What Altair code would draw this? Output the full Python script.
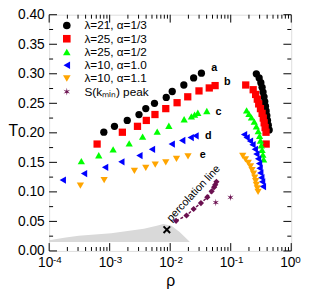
import altair as alt
import pandas as pd
import numpy as np

# ---------------- data ----------------
names = ["λ=21, α=1/3", "λ=25, α=1/3", "λ=25, α=1/2", "λ=10, α=1.0", "λ=10, α=1.1", "S(kₘᵢₙ) peak"]
colors = ["#000000", "#ff0000", "#00ff00", "#0000ff", "#ffa500", "#6b1050"]

a_rho = [8.0e-4, 1.2e-3, 1.95e-3, 3.05e-3, 3.95e-3, 5.5e-3, 8.6e-3, 1.08e-2, 1.68e-2, 2.44e-2, 3.28e-2,
         0.265, 0.295, 0.315, 0.330, 0.342, 0.355, 0.365, 0.375, 0.385, 0.395, 0.405, 0.418, 0.432]
a_T = [0.201, 0.211, 0.221, 0.231, 0.241, 0.250, 0.260, 0.270, 0.281, 0.293, 0.301,
       0.300, 0.293, 0.285, 0.277, 0.269, 0.261, 0.253, 0.245, 0.237, 0.229, 0.221, 0.213, 0.205]

b_rho = [6.2e-4, 1.62e-3, 2.88e-3, 4.03e-3, 5.6e-3, 8.45e-3, 1.30e-2, 1.95e-2, 2.99e-2, 4.42e-2, 5.52e-2,
         0.177, 0.235, 0.258, 0.275, 0.290, 0.310, 0.330, 0.345, 0.357, 0.370, 0.383, 0.385]
b_T = [0.181, 0.201, 0.211, 0.221, 0.231, 0.241, 0.251, 0.261, 0.271, 0.276, 0.280,
       0.281, 0.273, 0.265, 0.257, 0.249, 0.241, 0.233, 0.225, 0.217, 0.209, 0.201, 0.181]

c_rho = [3.4e-4, 6.6e-4, 1.14e-3, 2.1e-3, 3.5e-3, 6.1e-3, 9.5e-3, 1.70e-2, 2.24e-2, 2.53e-2, 2.86e-2, 4.03e-2,
         0.183, 0.200, 0.220, 0.245, 0.265, 0.285, 0.300, 0.310, 0.320, 0.330, 0.340, 0.350]
c_T = [0.152, 0.162, 0.172, 0.182, 0.1935, 0.202, 0.212, 0.223, 0.228, 0.231, 0.234, 0.237,
       0.238, 0.232, 0.226, 0.219, 0.211, 0.203, 0.195, 0.187, 0.179, 0.171, 0.163, 0.155]

d_rho = [1.68e-4, 3.77e-4, 8.4e-4, 1.56e-3, 3.1e-3, 5.0e-3, 1.06e-2, 1.58e-2, 2.18e-2, 2.62e-2,
         0.166, 0.183, 0.208, 0.229, 0.250, 0.265, 0.283, 0.294, 0.300, 0.308, 0.320, 0.330, 0.340]
d_T = [0.120, 0.131, 0.1415, 0.151, 0.1615, 0.172, 0.181, 0.187, 0.192, 0.195,
       0.197, 0.192, 0.186, 0.180, 0.172, 0.164, 0.156, 0.148, 0.140, 0.132, 0.124, 0.117, 0.109]

e_rho = [3.28e-4, 8.1e-4, 2.56e-3, 3.95e-3, 5.66e-3, 8.45e-3, 1.27e-2, 1.97e-2,
         0.158, 0.175, 0.195, 0.212, 0.225, 0.238, 0.250, 0.258, 0.265, 0.275, 0.283]
e_T = [0.1106, 0.120, 0.1355, 0.1407, 0.146, 0.150, 0.156, 0.160,
       0.161, 0.155, 0.149, 0.143, 0.137, 0.131, 0.124, 0.118, 0.112, 0.106, 0.100]

peak_rho = [5.66e-2, 0.099]
peak_T = [0.082, 0.0906]

perc_rho = [1.25e-2, 1.86e-2, 2.44e-2, 3.22e-2, 4.1e-2, 4.84e-2, 5.32e-2, 5.55e-2, 5.8e-2]
perc_T = [0.051, 0.060, 0.071, 0.081, 0.091, 0.101, 0.108, 0.112, 0.117]

x_rho = [0.0088]
x_T = [0.036]

grey_rho = [1e-4, 1.88e-4, 3.08e-4, 5.7e-4, 1.06e-3, 1.97e-3, 3.67e-3, 6.0e-3, 7.7e-3, 1.05e-2, 1.43e-2, 2.08e-2]
grey_top = [0.018, 0.0228, 0.0255, 0.028, 0.030, 0.0337, 0.0374, 0.0427, 0.0455, 0.0427, 0.032, 0.016]
grey_bottom = 0.015

curve_letters = ["a", "b", "c", "d", "e"]
letter_rho = [0.0532, 0.0877, 0.0627, 0.0425, 0.0345]
letter_T = [0.309, 0.286, 0.235, 0.195, 0.163]

perc_label = ["percolation line"]
perc_label_rho = [0.0245]
perc_label_T = [0.097]

x_major = [1e-4, 1e-3, 1e-2, 1e-1, 1.0]
x_exp = ["-4", "-3", "-2", "-1", "0"]
x_minor = [k * 10.0 ** e for e in range(-4, 0) for k in range(2, 10)]
y_major = [0.0, 0.05, 0.10, 0.15, 0.20, 0.25, 0.30, 0.35, 0.40]
y_minor = [0.025, 0.075, 0.125, 0.175, 0.225, 0.275, 0.325, 0.375]

# ---------------- build tables ----------------
W, H = 247, 241
FONT = "Liberation Sans"
purple = colors[5]
X_LO, X_HI = 1e-4, 1.0
Y_LO, Y_HI = 0.0, 0.4

rows = []
for nm, rr, tt in zip(names, [a_rho, b_rho, c_rho, d_rho, e_rho, peak_rho], [a_T, b_T, c_T, d_T, e_T, peak_T]):
    for r, t in zip(rr, tt):
        rows.append({"rho": r, "T": t, "series": nm})
pts = pd.DataFrame(rows)

ang = np.arange(12) * np.pi / 6 - np.pi / 2
rad = np.where(np.arange(12) % 2 == 0, 1.0, 0.3)
star_path = "M" + "L".join(f"{rr*np.cos(a):.3f},{rr*np.sin(a):.3f}" for rr, a in zip(rad, ang)) + "Z"
shapes = ["circle", "square", "triangle-up", "triangle-left", "triangle-down", star_path]

xs = alt.Scale(type="log", domain=[X_LO, X_HI])
ys = alt.Scale(domain=[Y_LO, Y_HI])
XN = alt.X("rho:Q", scale=xs, axis=None)
YN = alt.Y("T:Q", scale=ys, axis=None)

grey = pd.DataFrame({"rho": grey_rho, "T": grey_top, "T0": [grey_bottom] * len(grey_rho)})
perc = pd.DataFrame({"rho": perc_rho, "T": perc_T})
xdf = pd.DataFrame({"rho": x_rho, "T": x_T})
letters = pd.DataFrame({"rho": letter_rho, "T": letter_T, "lab": curve_letters})
plab = pd.DataFrame({"rho": perc_label_rho, "T": perc_label_T, "lab": perc_label})
expdf = pd.DataFrame({"rho": x_major, "lab": x_exp})

# main axis (labels) layer: grey area
grey_layer = alt.Chart(grey).mark_area(color="#d9d9d9", opacity=1).encode(
    x=alt.X("rho:Q", scale=xs, axis=alt.Axis(
        orient="bottom", values=x_major, labelExpr="'10'", tickSize=0, labelPadding=5,
        labelOffset=-4, labelFlush=False, labelFontSize=14, labelFont=FONT, labelColor="black",
        domain=False, grid=False, title="ρ", titleFontSize=16, titleFont=FONT,
        titleFontWeight="normal", titleY=30, titleBaseline="middle", titleColor="black")),
    y=alt.Y("T:Q", scale=ys, axis=alt.Axis(
        orient="left", values=y_major, format=".2f", tickSize=0, labelPadding=5,
        labelFontSize=14, labelFont=FONT, labelColor="black", domain=False, grid=False,
        title="T", titleAngle=0, titleX=-37, titleY=118, titleFontSize=16, titleFont=FONT,
        titleFontWeight="normal", titleBaseline="middle", titleAlign="center", titleColor="black")),
    y2="T0:Q",
)

# inward tick marks as rules whose two ends both go through the scales
ppy = (Y_HI - Y_LO) / H                    # data units per pixel (y)
dpx = np.log10(X_HI / X_LO) / W            # decades per pixel (x)


def xticks(vals, at_top, length):
    a = Y_HI if at_top else Y_LO
    b = a - length * ppy if at_top else a + length * ppy
    df = pd.DataFrame({"rho": vals, "T": [a] * len(vals), "T2": [b] * len(vals)})
    return alt.Chart(df).mark_rule(color="black", strokeWidth=1, opacity=1).encode(
        x=XN, y=YN, y2="T2:Q")


def yticks(vals, at_right, length):
    a = X_HI if at_right else X_LO
    b = a / 10 ** (length * dpx) if at_right else a * 10 ** (length * dpx)
    df = pd.DataFrame({"T": vals, "rho": [a] * len(vals), "rho2": [b] * len(vals)})
    return alt.Chart(df).mark_rule(color="black", strokeWidth=1, opacity=1).encode(
        y=YN, x=XN, x2="rho2:Q")


tick_layers = [
    xticks(x_major, False, 8), xticks(x_minor, False, 4),
    xticks(x_major, True, 8), xticks(x_minor, True, 4),
    yticks(y_major, False, 8), yticks(y_minor, False, 4),
    yticks(y_major, True, 8), yticks(y_minor, True, 4),
]

leg = alt.Legend(orient="none", legendX=12, legendY=5, title=None, labelFont=FONT, labelFontSize=12,
                 labelColor="black", symbolSize=60, rowPadding=1.5, padding=0, symbolStrokeWidth=0,
                 labelOffset=12)

points = alt.Chart(pts).mark_point(filled=True, opacity=1, size=55, strokeWidth=0).encode(
    x=XN, y=YN,
    color=alt.Color("series:N", sort=names, scale=alt.Scale(domain=names, range=colors), legend=leg),
    shape=alt.Shape("series:N", sort=names, scale=alt.Scale(domain=names, range=shapes), legend=leg),
)

perc_line = alt.Chart(perc).mark_line(color=purple, strokeDash=[3, 2], strokeWidth=1.5).encode(x=XN, y=YN)
perc_pts = alt.Chart(perc).mark_point(shape="diamond", filled=True, color=purple, size=40, opacity=1).encode(
    x=XN, y=YN)

x_mark = alt.Chart(xdf).mark_point(shape="M-1,-1L1,1M-1,1L1,-1", filled=False, color="black",
                                   strokeWidth=2, size=45, opacity=1).encode(x=XN, y=YN)

letter_txt = alt.Chart(letters).mark_text(fontSize=11, fontWeight="bold", font=FONT, color="black").encode(
    x=XN, y=YN, text="lab:N")

plab_txt = alt.Chart(plab).mark_text(fontSize=11, font=FONT, color="black", angle=313,
                                     align="center", baseline="middle").encode(
    x=XN, y=YN, text="lab:N")

exp_txt = alt.Chart(expdf).mark_text(fontSize=10, font=FONT, color="black", align="left",
                                     baseline="alphabetic", dx=4, clip=False).encode(
    x=XN, y=alt.value(H + 12), text="lab:N")

chart = alt.layer(
    grey_layer, perc_line, perc_pts, x_mark, points, letter_txt, plab_txt, exp_txt, *tick_layers
).resolve_axis(x="independent", y="independent").properties(
    width=W, height=H,
    autosize=alt.AutoSizeParams(type="none"),
    padding={"left": 42, "top": 4, "right": 12, "bottom": 37},
).configure_view(stroke="black", strokeWidth=1.5).configure(background="white")

chart.save("out.html", embed_options={"renderer": "svg", "actions": False})
